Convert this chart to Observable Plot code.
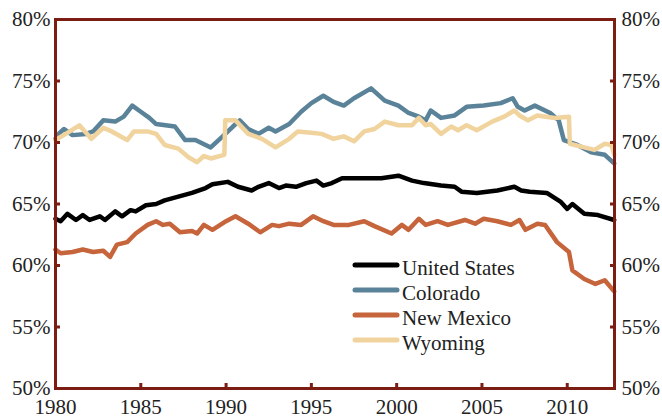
<!DOCTYPE html>
<html>
<head>
<meta charset="utf-8">
<script src="https://cdn.jsdelivr.net/npm/d3@7"></script>
<script src="https://cdn.jsdelivr.net/npm/@observablehq/plot@0.6"></script>
<style>
  body { margin: 0; background: #fff; }
  #chart { position: relative; width: 662px; height: 418px; }
</style>
</head>
<body>
<div id="chart"></div>
<script>
const series = ["United States", "Colorado", "New Mexico", "Wyoming"];
const colors = ["#000000", "#5a8399", "#c6643c", "#f0d39d"];

const usYears  = [1980.0,1980.3,1980.7,1981.2,1981.6,1982.0,1982.6,1982.9,1983.5,1983.9,1984.4,1984.7,1985.3,1985.9,1986.4,1987.2,1988.0,1988.8,1989.2,1990.1,1990.7,1991.5,1991.9,1992.5,1993.1,1993.5,1994.1,1994.7,1995.3,1995.7,1996.2,1996.8,1997.9,1999.1,2000.1,2000.9,2001.6,2002.6,2003.4,2003.8,2004.7,2005.9,2006.9,2007.3,2007.8,2008.8,2009.6,2010.0,2010.3,2011.0,2011.8,2012.75];
const usValues = [63.8,63.6,64.2,63.7,64.1,63.7,64.0,63.7,64.4,64.0,64.5,64.4,64.9,65.0,65.3,65.6,65.9,66.3,66.6,66.8,66.4,66.1,66.4,66.7,66.3,66.5,66.4,66.7,66.9,66.5,66.7,67.1,67.1,67.1,67.3,66.9,66.7,66.5,66.4,66.0,65.9,66.1,66.4,66.1,66.0,65.9,65.2,64.6,65.0,64.2,64.1,63.7];

const coYears  = [1980.0,1980.1,1980.5,1981.0,1981.8,1982.2,1982.8,1983.5,1984.0,1984.5,1985.0,1985.5,1985.9,1987.0,1987.6,1988.2,1989.1,1989.8,1990.4,1990.8,1991.3,1991.9,1992.5,1992.9,1993.7,1994.4,1995.0,1995.7,1996.3,1996.9,1997.5,1998.5,1999.3,2000.1,2000.7,2001.3,2001.7,2002.0,2002.6,2003.4,2004.1,2005.1,2006.1,2006.8,2007.1,2007.5,2008.1,2009.0,2009.5,2009.8,2010.6,2011.4,2012.2,2012.75];
const coValues = [70.3,70.6,71.1,70.6,70.7,70.9,71.8,71.7,72.1,73.0,72.5,72.0,71.5,71.3,70.2,70.2,69.6,70.5,71.3,71.8,71.1,70.7,71.2,70.9,71.5,72.5,73.2,73.8,73.3,73.0,73.6,74.4,73.4,73.0,72.4,72.1,71.8,72.6,72.0,72.2,72.9,73.0,73.2,73.6,72.9,72.6,73.0,72.4,71.8,70.2,69.8,69.2,69.0,68.3];

const nmYears  = [1980.0,1980.3,1981.0,1981.6,1982.2,1982.8,1983.2,1983.6,1984.2,1984.7,1985.4,1985.9,1986.3,1986.7,1987.3,1988.0,1988.3,1988.7,1989.2,1990.0,1990.55,1991.3,1992.0,1992.7,1993.1,1993.7,1994.4,1995.1,1995.7,1996.3,1997.2,1998.1,1998.7,1999.7,2000.3,2000.7,2001.3,2001.7,2002.4,2003.0,2004.0,2004.6,2005.1,2005.9,2006.7,2007.2,2007.55,2008.25,2008.7,2009.4,2010.1,2010.3,2011.0,2011.65,2012.2,2012.75];
const nmValues = [61.3,61.0,61.1,61.3,61.1,61.2,60.7,61.7,61.9,62.6,63.3,63.6,63.3,63.4,62.7,62.8,62.6,63.3,62.9,63.6,64.0,63.4,62.7,63.3,63.2,63.4,63.3,64.0,63.6,63.3,63.3,63.6,63.2,62.6,63.3,62.9,63.8,63.3,63.6,63.3,63.7,63.4,63.8,63.6,63.3,63.7,62.9,63.4,63.3,61.9,61.1,59.6,58.9,58.5,58.8,57.9];

const wyYears  = [1980.0,1980.6,1981.4,1982.1,1982.8,1983.3,1984.2,1984.6,1985.4,1985.9,1986.4,1987.2,1987.8,1988.3,1988.7,1989.1,1989.9,1989.95,1990.55,1991.3,1992.1,1992.9,1993.7,1994.2,1995.0,1995.6,1996.3,1996.9,1997.5,1998.1,1998.7,1999.3,2000.1,2000.9,2001.3,2001.7,2002.0,2002.6,2003.2,2003.6,2004.1,2004.7,2005.6,2006.3,2006.9,2007.2,2007.7,2008.25,2009.25,2010.1,2010.15,2011.0,2011.6,2012.2,2012.6,2012.75];
const wyValues = [70.2,70.7,71.4,70.3,71.2,70.9,70.2,70.9,70.9,70.7,69.8,69.5,68.8,68.4,68.9,68.7,69.0,71.8,71.8,70.7,70.3,69.6,70.3,70.9,70.8,70.7,70.3,70.5,70.1,70.9,71.1,71.7,71.4,71.4,72.0,71.4,71.5,70.7,71.3,71.0,71.4,71.0,71.7,72.1,72.6,72.2,71.8,72.2,72.0,72.1,69.9,69.6,69.4,69.9,69.8,69.0];

const xTicks = [1980, 1985, 1990, 1995, 2000, 2005, 2010];
const yTicks = [50, 55, 60, 65, 70, 75, 80];

const allYears = [usYears, coYears, nmYears, wyYears];
const allValues = [usValues, coValues, nmValues, wyValues];
const rows = [];
series.forEach((s, i) => {
  allYears[i].forEach((yr, j) => rows.push({series: s, year: yr, value: allValues[i][j]}));
});

const frameColor = "#7b1d13";
const textColor = "#222";

const plot = Plot.plot({
  width: 662,
  height: 418,
  marginLeft: 55,
  marginRight: 48,
  marginTop: 19,
  marginBottom: 30,
  style: {fontFamily: "'Liberation Serif', 'DejaVu Serif', serif", fontSize: "21px", background: "white", color: textColor},
  x: {domain: [1980, 2012.77], label: null},
  y: {domain: [50, 80], label: null},
  color: {domain: series, range: colors},
  marks: [
    Plot.line(rows, {x: "year", y: "value", z: "series", stroke: "series", strokeWidth: 4.5, strokeLinejoin: "round", strokeLinecap: "round"}),
    Plot.frame({stroke: frameColor, strokeWidth: 3}),
    Plot.axisX(xTicks, {anchor: "bottom", label: null, tickSize: -5, tickPadding: 16, stroke: frameColor, strokeWidth: 3, fill: textColor, tickFormat: d => String(d), fontSize: 21}),
    Plot.axisY(yTicks, {anchor: "left", label: null, tickSize: -5, tickPadding: 10, stroke: frameColor, strokeWidth: 3, fill: textColor, tickFormat: d => d + "%", fontSize: 21}),
    Plot.axisY(yTicks, {anchor: "right", label: null, tickSize: -5, tickPadding: 12, stroke: frameColor, strokeWidth: 3, fill: textColor, tickFormat: d => d + "%", fontSize: 21})
  ]
});

// Legend inside the plot area
const svg = d3.select(plot);
const lg = svg.append("g")
  .attr("font-family", "'Liberation Serif', serif")
  .attr("font-size", 21)
  .attr("text-anchor", "start");
series.forEach((s, i) => {
  const y = 265 + 25 * i;
  lg.append("line").attr("x1", 355).attr("x2", 397).attr("y1", y).attr("y2", y)
    .attr("stroke", colors[i]).attr("stroke-width", 5).attr("stroke-linecap", "round");
  lg.append("text").attr("x", 402).attr("y", y + 10).attr("fill", textColor)
    .attr("text-anchor", "start").text(s);
});

document.getElementById("chart").appendChild(plot);
</script>
</body>
</html>
